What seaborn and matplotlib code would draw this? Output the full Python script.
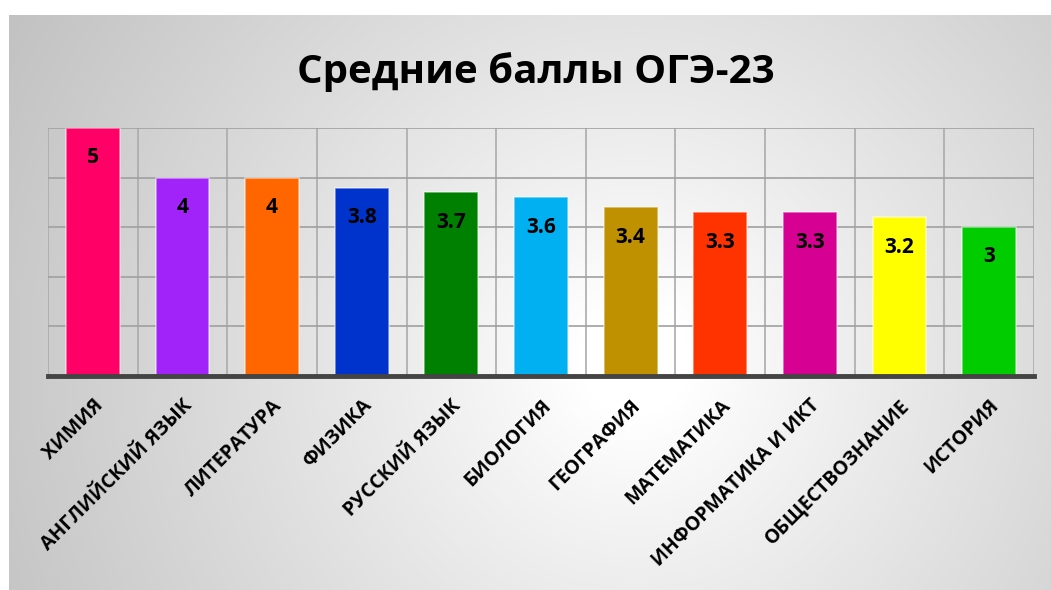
import matplotlib
matplotlib.use("Agg")
import matplotlib.pyplot as plt
import seaborn as sns
import numpy as np
import pandas as pd

sns.set_style("white")
plt.rcParams['font.family'] = ['Open Sans', 'DejaVu Sans']

# data
subjects = ["ХИМИЯ", "АНГЛИЙСКИЙ ЯЗЫК", "ЛИТЕРАТУРА", "ФИЗИКА", "РУССКИЙ ЯЗЫК",
            "БИОЛОГИЯ", "ГЕОГРАФИЯ", "МАТЕМАТИКА", "ИНФОРМАТИКА И ИКТ",
            "ОБЩЕСТВОЗНАНИЕ", "ИСТОРИЯ"]
scores = [5, 4, 4, 3.8, 3.7, 3.6, 3.4, 3.3, 3.3, 3.2, 3]
score_labels = ["5", "4", "4", "3.8", "3.7", "3.6", "3.4", "3.3", "3.3", "3.2", "3"]
bar_colors = ["#FF0066", "#A222FA", "#FF6600", "#0033CC", "#008000", "#00B0F0",
              "#BF9000", "#FF3300", "#D60093", "#FFFF00", "#00CC00"]

df = pd.DataFrame({"subject": subjects, "score": scores})

fig = plt.figure(figsize=(10.51, 5.90), dpi=100)
fig.patch.set_facecolor("white")

# gradient background panel
bg = fig.add_axes([9 / 1051, 0, 1 - 9 / 1051, 575 / 590], zorder=0)
h, w = 300, 520
yy, xx = np.mgrid[0:h, 0:w]
cx, cy = 0.6 * w, 0.6 * h
d = np.sqrt(((xx - cx) / w) ** 2 + ((yy - cy) / h * 0.55) ** 2)
d = d / d.max()
grad = 1.0 - 0.24 * np.clip((d - 0.08) / 0.92, 0, 1) ** 0.9
bg.imshow(np.dstack([grad] * 3), aspect="auto", extent=[0, 1, 0, 1], origin="upper")
bg.axis("off")

ax = fig.add_axes([48 / 1051, 1 - 376 / 590, (1034 - 48) / 1051, (376 - 128) / 590], zorder=1)
ax.set_facecolor("none")

sns.barplot(data=df, x="subject", y="score", hue="subject", palette=bar_colors,
            legend=False, width=0.6, ax=ax, saturation=1, zorder=3,
            edgecolor="white", linewidth=1.2)
for p in ax.patches:
    p.set_edgecolor((1, 1, 1, 0.5))

ax.set_ylim(0, 5)
ax.set_xlim(-0.5, len(subjects) - 0.5)
ax.set_yticks([1, 2, 3, 4, 5])
ax.set_yticklabels([])
ax.set_xticks(np.arange(-0.5, len(subjects), 1), minor=True)
ax.grid(True, axis="y", color="#A0A0A0", linewidth=1.2, zorder=0)
ax.grid(True, axis="x", which="minor", color="#ABABAB", linewidth=1.2, zorder=0)
ax.tick_params(axis="both", which="both", length=0)

for s in ["top", "right", "left"]:
    ax.spines[s].set_visible(False)
ax.spines["bottom"].set_color("#444444")
ax.spines["bottom"].set_linewidth(3.5)
ax.spines["bottom"].set_zorder(5)

ax.set_xticks(range(len(subjects)))
ax.set_xticklabels(subjects, rotation=45, ha="right", rotation_mode="anchor",
                   fontsize=14, fontweight="bold", color="black")
ax.tick_params(axis="x", pad=14)
ax.set_xlabel("")
ax.set_ylabel("")

for i, (v, lab) in enumerate(zip(scores, score_labels)):
    ax.text(i, v - 0.6, lab, ha="center", va="center", fontsize=15,
            fontweight="bold", color="black", zorder=6)

fig.text(536 / 1051, 1 - 72 / 590, "Средние баллы ОГЭ-23", ha="center", va="center",
         fontsize=29, fontweight="bold", color="black")

fig.savefig("out.png", dpi=100)
